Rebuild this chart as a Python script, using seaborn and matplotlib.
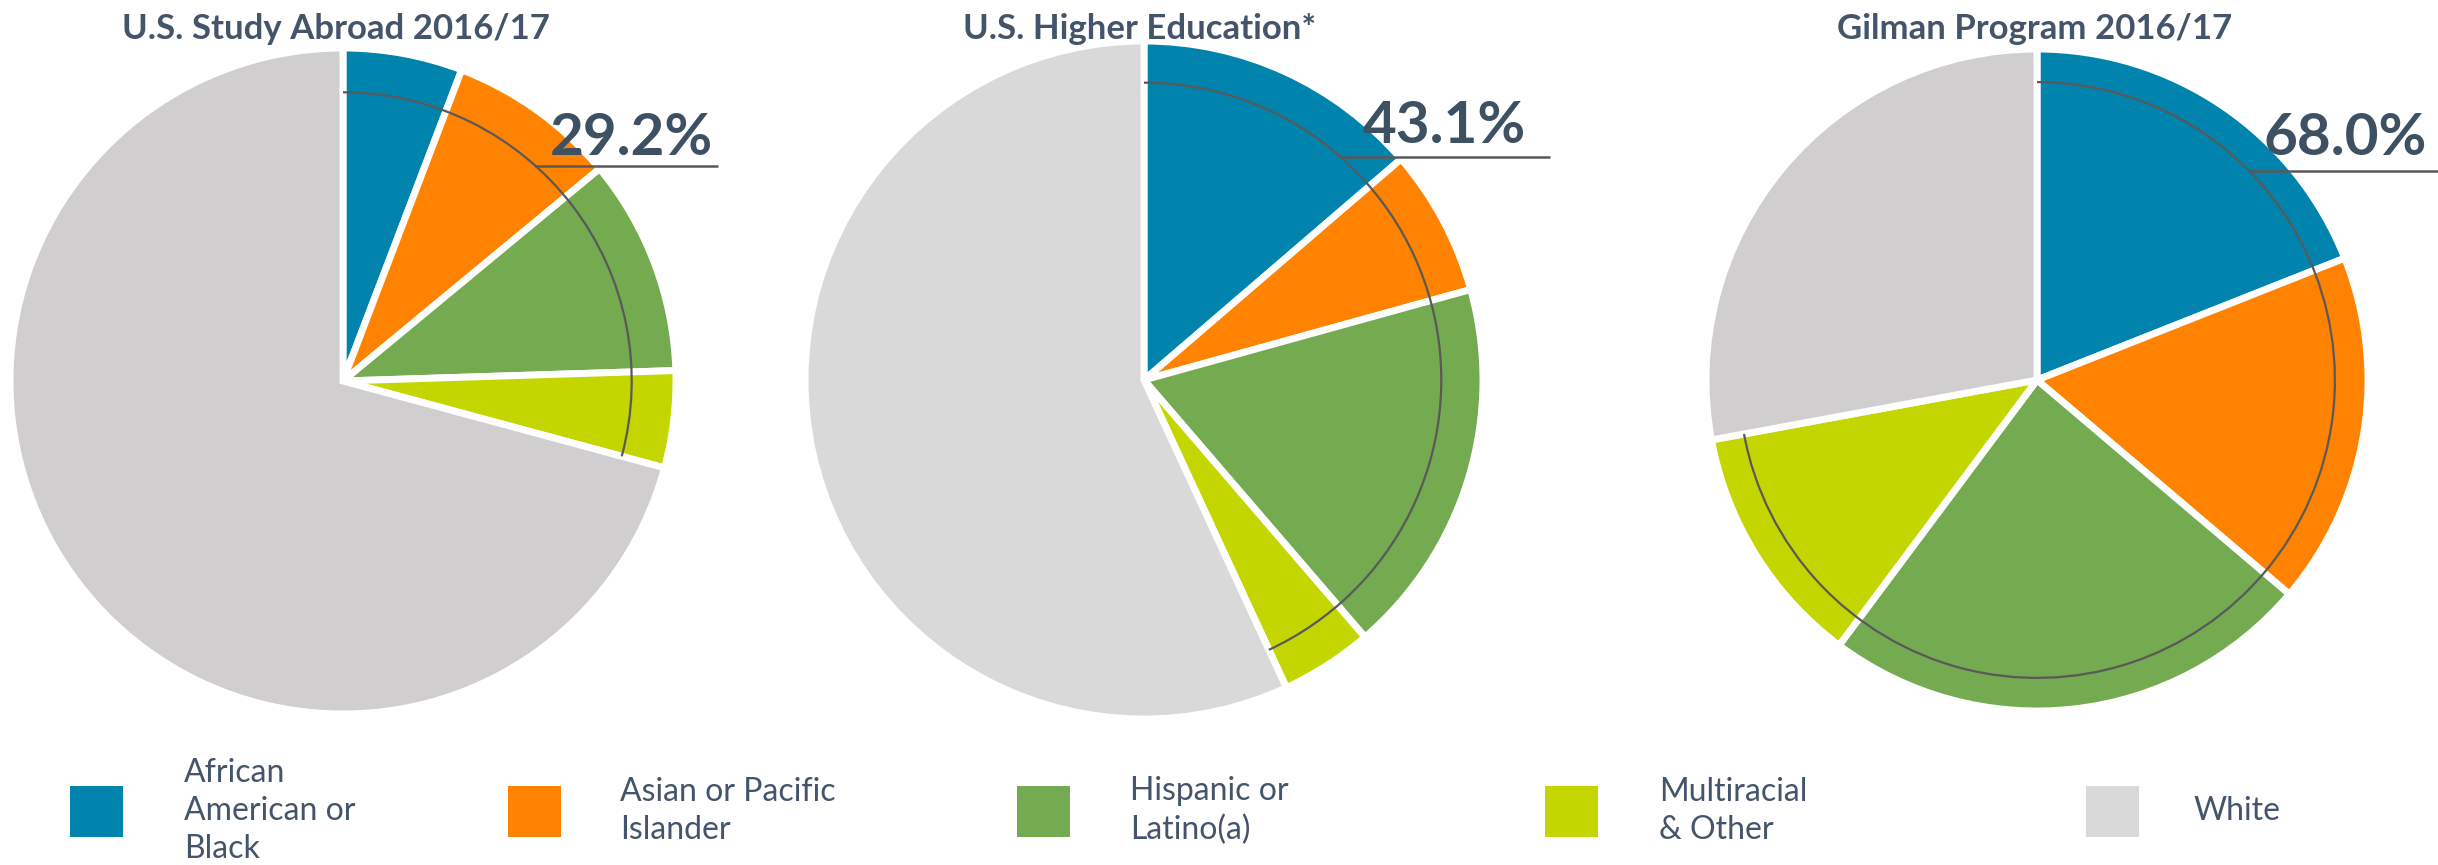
import numpy as np
import matplotlib
matplotlib.use("Agg")
import matplotlib.pyplot as plt
import seaborn as sns
from matplotlib.patches import Arc, Rectangle

sns.set_theme(style="white")
plt.rcParams['font.family'] = ['Lato', 'DejaVu Sans']

# data (percent of students)
groups = ["African\nAmerican or\nBlack", "Asian or Pacific\nIslander",
          "Hispanic or\nLatino(a)", "Multiracial\n& Other", "White"]
titles = ["U.S. Study Abroad 2016/17", "U.S. Higher Education*", "Gilman Program 2016/17"]
study_abroad = [5.8, 8.2, 10.5, 4.7, 70.8]
higher_ed = [13.7, 7.0, 18.0, 4.4, 56.9]
gilman = [19.0, 17.2, 24.0, 11.9, 27.9]
minority_labels = ["29.2%", "43.1%", "68.0%"]

colors = ["#0083AC", "#FF8200", "#74AA50", "#C4D600"]
white_cols = ["#D0CECE", "#D9D9D9", "#D0CECE"]
text_col = "#44546A"
line_col = "#595959"

W, H = 2438, 865
fig = plt.figure(figsize=(W / 100, H / 100), dpi=100)
ax = fig.add_axes([0, 0, 1, 1])

# layout in pixels (y measured from top of image)
centers = [(343, 381), (1144, 380), (2037, 380)]
radii = [333, 339, 331]
arc_frac = [0.867, 0.877, 0.90]
title_x = [336, 1140, 2035]
line_y = [165.7, 156.7, 170.7]
line_end = [718, 1550, 2438]
label_x = [550, 1363, 2263]
label_base = [155, 143, 155]

for i, vals in enumerate([study_abroad, higher_ed, gilman]):
    cx, cy = centers[i]
    cy = H - cy
    ax.pie(vals, colors=colors + [white_cols[i]], startangle=90, counterclock=False,
           center=(cx, cy), radius=radii[i],
           wedgeprops=dict(edgecolor="white", linewidth=5))
    ax.text(title_x[i], H - 39, titles[i], ha="center", va="baseline",
            fontsize=25, fontweight="bold", color=text_col)

    # arc around the non-white share
    frac = sum(vals[:4]) / sum(vals)
    ra = radii[i] * arc_frac[i]
    ax.add_patch(Arc((cx, cy), 2 * ra, 2 * ra, theta1=90 - 360 * frac, theta2=90,
                     color=line_col, lw=1.6, zorder=5))
    ly = H - line_y[i]
    x0 = cx + np.sqrt(max(ra ** 2 - (ly - cy) ** 2, 0))
    ax.plot([x0, line_end[i]], [ly, ly], color=line_col, lw=1.8, zorder=5,
            solid_capstyle="butt")
    ax.text(label_x[i], H - label_base[i], minority_labels[i], ha="left", va="baseline",
            fontsize=42, fontweight="bold", color="#3E5163", zorder=6)

# legend
sq_x = [70, 508, 1017, 1545, 2086]
txt_x = [184, 620, 1130, 1659, 2194]
for i, g in enumerate(groups):
    c = colors[i] if i < 4 else "#D9D9D9"
    ax.add_patch(Rectangle((sq_x[i], H - 837), 53, 51, color=c, lw=0))
    ax.text(txt_x[i], H - 811, g, ha="left", va="center", fontsize=23,
            color=text_col, linespacing=1.35)

ax.set_xlim(0, W)
ax.set_ylim(0, H)
ax.set_aspect("equal")
ax.axis("off")

fig.savefig("out.png", dpi=100)
